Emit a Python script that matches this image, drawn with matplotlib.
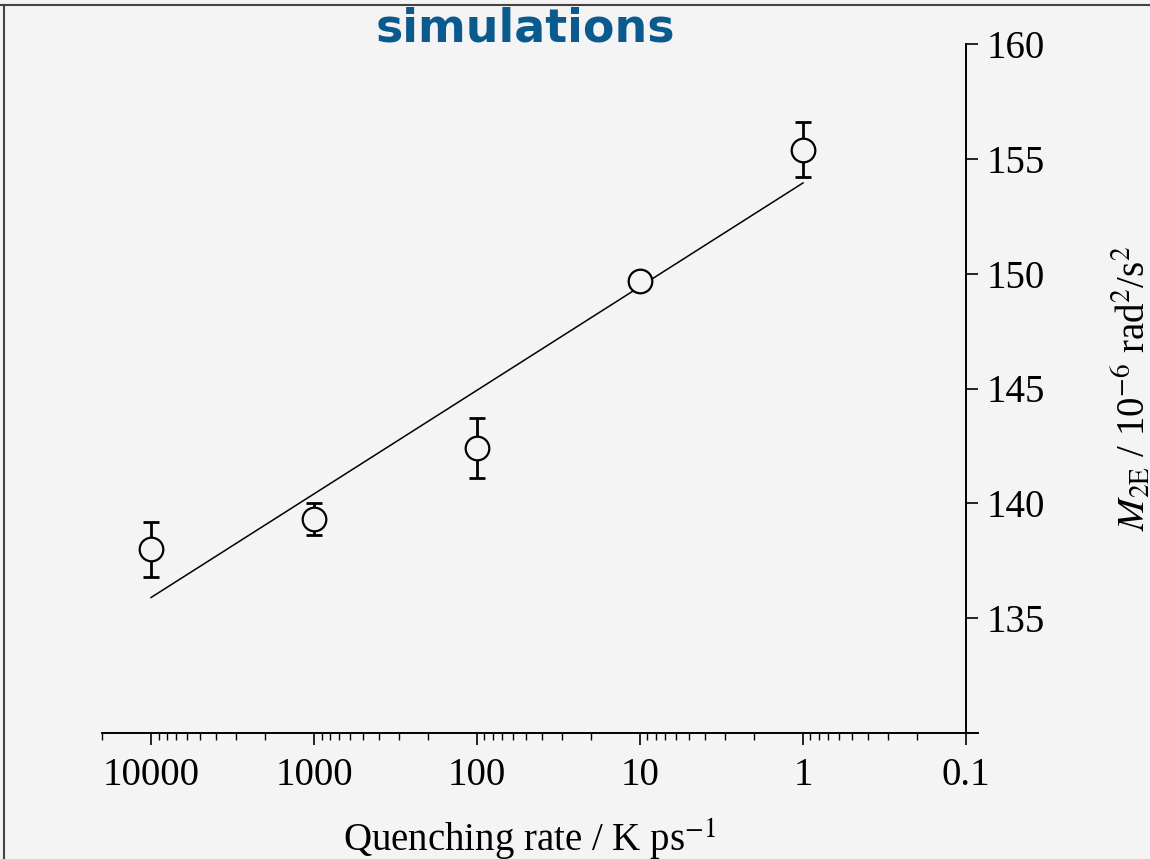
import numpy as np
import matplotlib.pyplot as plt
from matplotlib.lines import Line2D
from matplotlib.ticker import FixedLocator, NullFormatter

# dane
szybkosc = [10000, 1000, 100, 10, 1]          # K/ps
m2e = [138.0, 139.3, 142.4, 149.7, 155.4]     # 10^-6 rad^2/s^2
blad = [1.2, 0.7, 1.3, 0.3, 1.2]

fit_x = [10000, 1]
fit_y = [135.9, 153.95]

xticki = [10000, 1000, 100, 10, 1, 0.1]
xetykiety = ["10000", "1000", "100", "10", "1", "0.1"]
yticki = [135, 140, 145, 150, 155, 160]

# male podzialki 2..9 w kazdej dekadzie, od 20000 do 0.2
minor = [m * 10.0 ** d for d in range(-1, 4) for m in range(2, 10)] + [20000]

tlo = "#f4f4f4"
plt.rcParams["font.family"] = ["Liberation Serif", "DejaVu Serif"]
plt.rcParams["mathtext.fontset"] = "stix"

fig = plt.figure(figsize=(11.5, 8.59), dpi=100, facecolor=tlo)
ax = fig.add_axes([102 / 1150, 1 - 733 / 859, 876 / 1150, 689 / 859])
ax.set_facecolor(tlo)

ax.plot(fit_x, fit_y, color="black", lw=1.1, zorder=2)
ax.errorbar(szybkosc, m2e, yerr=blad, fmt="none", ecolor="black",
            elinewidth=2.0, capsize=5.5, capthick=2.0, zorder=3)
ax.plot(szybkosc, m2e, "o", ms=17, mfc=tlo, mec="black", mew=1.6, zorder=4)

ax.set_xscale("log")
ax.set_xlim(20000, 0.0844)
ax.set_ylim(130, 160)

ax.set_xticks(xticki)
ax.set_xticklabels(xetykiety)
ax.xaxis.set_minor_locator(FixedLocator(minor))
ax.xaxis.set_minor_formatter(NullFormatter())
ax.set_yticks(yticki)

for s in ["top", "left"]:
    ax.spines[s].set_visible(False)
ax.spines["right"].set_position(("data", 0.1))
ax.spines["right"].set_linewidth(1.4)
ax.spines["bottom"].set_linewidth(1.4)

ax.yaxis.tick_right()
ax.yaxis.set_label_position("right")
ax.tick_params(axis="x", which="major", direction="out", length=8.5, width=1.2,
               labelsize=28, pad=9)
ax.tick_params(axis="x", which="minor", direction="out", length=5, width=1.0)
ax.tick_params(axis="y", which="major", direction="out", length=8.5, width=1.2,
               labelsize=28, pad=6)

ax.set_xlabel("Quenching rate / K ps$^{-1}$", fontsize=28)
ax.xaxis.set_label_coords(0.488, -0.122)
ax.set_ylabel(r"$M_{\mathrm{2E}}$ / 10$^{-6}$ rad$^2$/s$^2$", fontsize=28)
ax.yaxis.set_label_coords(1.152, 0.5)

# ramka
fig.add_artist(Line2D([0, 1], [1 - 5 / 859, 1 - 5 / 859], color="#444444", lw=1.5))
fig.add_artist(Line2D([4 / 1150, 4 / 1150], [0, 1 - 5 / 859], color="#444444", lw=1.5))

fig.text(525 / 1150, 1 - 42 / 859, "simulations", fontsize=33, fontweight="bold",
         color="#0b5a8e", ha="center", va="baseline", family=["DejaVu Sans"])

fig.savefig("out.png", dpi=100, facecolor=tlo)
